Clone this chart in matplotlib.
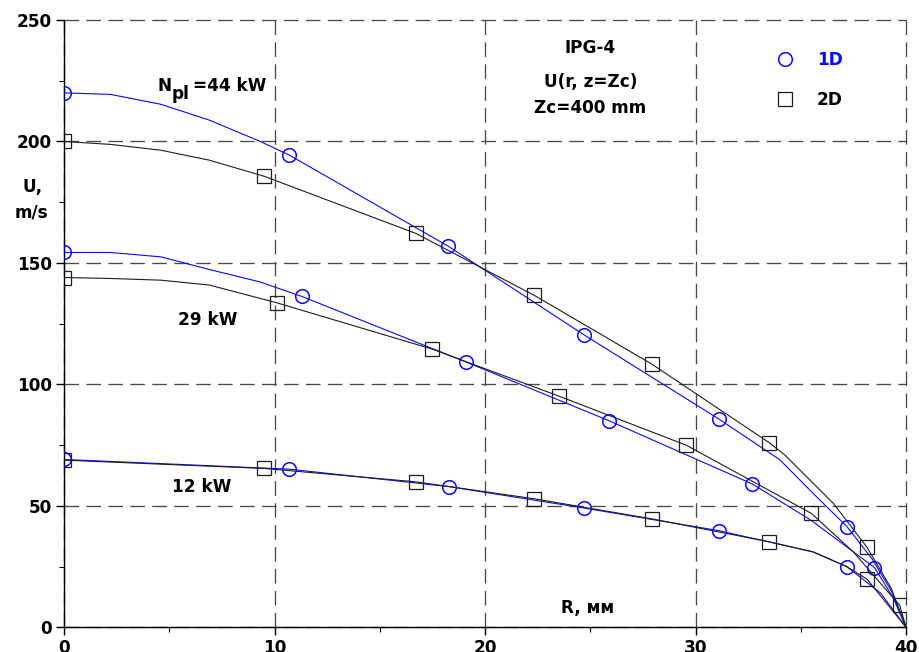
import matplotlib
matplotlib.use("Agg")
import matplotlib.pyplot as plt
from matplotlib.ticker import MultipleLocator

# Velocity profiles U(r) at z = Zc for three plasma powers
powers = ["44 kW", "29 kW", "12 kW"]

# 1D model points (circles)
r_1d_44 = [0, 10.7, 18.25, 24.7, 31.1, 37.2]
u_1d_44 = [220.0, 194.4, 156.9, 120.4, 85.8, 41.4]
r_1d_29 = [0, 11.3, 19.1, 25.9, 32.7, 38.5]
u_1d_29 = [154.3, 136.2, 109.2, 85.0, 59.0, 24.6]
r_1d_12 = [0, 10.7, 18.3, 24.7, 31.1, 37.2]
u_1d_12 = [69.1, 65.1, 57.9, 49.1, 39.8, 24.9]

# 2D model points (squares)
r_2d_44 = [0, 9.5, 16.7, 22.35, 27.95, 33.5, 38.15]
u_2d_44 = [200.0, 185.7, 162.2, 136.6, 108.2, 76.0, 32.9]
r_2d_29 = [0, 10.1, 17.5, 23.5, 29.55, 35.5, 39.7]
u_2d_29 = [144.0, 133.6, 114.5, 95.2, 75.0, 46.9, 9.1]
r_2d_12 = [0, 9.5, 16.7, 22.35, 27.95, 33.5, 38.15]
u_2d_12 = [68.8, 65.4, 59.9, 52.9, 44.6, 35.2, 19.8]

# profile curves
curve_r_1d_44 = [0, 2.2, 4.6, 6.9, 9.3, 10.7, 18.25, 24.7, 31.1, 34.0, 35.6, 37.2, 38.4, 39.3, 40]
curve_u_1d_44 = [220.0, 219.4, 215.3, 208.8, 200.1, 194.4, 156.9, 120.4, 85.8, 69.0, 55.0, 41.4, 28.0, 15.0, 0]
curve_r_2d_44 = [0, 2.2, 4.6, 6.9, 9.5, 16.7, 22.35, 27.95, 33.5, 34.25, 36.55, 38.15, 39.3, 40]
curve_u_2d_44 = [200.0, 198.8, 196.4, 192.3, 185.7, 162.2, 136.6, 108.2, 76.0, 70.9, 51.0, 32.9, 16.0, 0]
curve_r_1d_29 = [0, 2.2, 4.6, 6.9, 9.3, 11.3, 19.1, 25.9, 32.7, 35.5, 37.2, 38.5, 39.4, 40]
curve_u_1d_29 = [154.3, 154.3, 152.5, 147.3, 142.2, 136.2, 109.2, 85.0, 59.0, 44.0, 33.0, 24.6, 12.0, 0]
curve_r_2d_29 = [0, 2.2, 4.6, 6.9, 10.1, 17.5, 23.5, 29.55, 35.5, 37.5, 38.8, 39.7, 40]
curve_u_2d_29 = [144.0, 143.6, 142.9, 140.9, 133.6, 114.5, 95.2, 75.0, 46.9, 31.0, 18.0, 9.1, 0]
curve_r_1d_12 = [0, 10.7, 18.3, 24.7, 31.1, 35.6, 37.2, 38.8, 40]
curve_u_1d_12 = [69.1, 65.1, 57.9, 49.1, 39.8, 31.0, 24.9, 14.0, 0]
curve_r_2d_12 = [0, 9.5, 16.7, 22.35, 27.95, 33.5, 35.6, 37.2, 38.15, 40]
curve_u_2d_12 = [68.8, 65.4, 59.9, 52.9, 44.6, 35.2, 31.0, 24.9, 19.8, 0]

x_ticks = [0, 10, 20, 30, 40]
y_ticks = [0, 50, 100, 150, 200, 250]

BLUE = "#0a0aff"
DARK = "#1e1e1e"
FONT = "DejaVu Sans"

plt.rcParams["font.family"] = FONT
plt.rcParams["font.weight"] = "bold"
plt.rcParams["lines.scale_dashes"] = False

fig = plt.figure(figsize=(9.2, 6.52), dpi=100)
ax = fig.add_axes([0.0696, 0.0379, 0.9152, 0.9314])

# curves
for r, u in [(curve_r_1d_44, curve_u_1d_44), (curve_r_1d_29, curve_u_1d_29),
             (curve_r_1d_12, curve_u_1d_12)]:
    ax.plot(r, u, color=BLUE, lw=0.8, zorder=3)
for r, u in [(curve_r_2d_44, curve_u_2d_44), (curve_r_2d_29, curve_u_2d_29),
             (curve_r_2d_12, curve_u_2d_12)]:
    ax.plot(r, u, color=DARK, lw=0.8, zorder=3)

# markers
circ = dict(ls="none", marker="o", ms=9.8, mfc="none", mec=BLUE, mew=1.1, zorder=4)
sq = dict(ls="none", marker="s", ms=9.6, mfc="none", mec=DARK, mew=0.9, zorder=4)
ax.plot(r_1d_44, u_1d_44, label="1D", **circ)
ax.plot(r_1d_29, u_1d_29, **circ)
ax.plot(r_1d_12, u_1d_12, **circ)
ax.plot(r_2d_44, u_2d_44, label="2D", **sq)
ax.plot(r_2d_29, u_2d_29, **sq)
ax.plot(r_2d_12, u_2d_12, **sq)

ax.set_xlim(0, 40)
ax.set_ylim(0, 250)
ax.set_xticks(x_ticks)
ax.set_yticks(y_ticks)
ax.xaxis.set_minor_locator(MultipleLocator(5))
ax.yaxis.set_minor_locator(MultipleLocator(25))
ax.tick_params(which="major", length=6, width=1, pad=2.5, labelsize=12.2, colors="black")
ax.tick_params(which="minor", length=3.5, width=0.8)
for lab in ax.get_xticklabels() + ax.get_yticklabels():
    lab.set_fontweight("bold")

for s in ["top", "right"]:
    ax.spines[s].set_visible(False)
for s in ["left", "bottom"]:
    ax.spines[s].set_linewidth(1.0)
    ax.spines[s].set_color("black")

ax.grid(True, which="major", color="#4a4a4a", lw=0.95, ls=(0, (10.5, 5.3)))
ax.set_axisbelow(True)
for gl in ax.get_xgridlines() + ax.get_ygridlines():
    gl.set_clip_on(False)

txt = dict(fontsize=12.2, fontweight="bold", color="black")
ax.text(4.42, 223.0, "N", ha="left", va="center", **txt)
ax.text(5.13, 219.6, "pl", ha="left", va="center", **txt)
ax.text(6.13, 223.0, "=44 kW", ha="left", va="center", **txt)
ax.text(6.84, 126.7, "29 kW", ha="center", va="center", **txt)
ax.text(6.56, 57.7, "12 kW", ha="center", va="center", **txt)

ax.text(25.0, 238.6, "IPG-4", ha="center", va="center", **txt)
ax.text(25.0, 224.4, "U(r, z=Zc)", ha="center", va="center", **txt)
ax.text(25.0, 213.9, "Zc=400 mm", ha="center", va="center", **txt)
ax.text(24.87, 8.1, "R, мм", ha="center", va="center", **txt)

ax.text(-1.5, 181.2, "U,", ha="center", va="center", clip_on=False, **txt)
ax.text(-1.55, 170.8, "m/s", ha="center", va="center", clip_on=False, **txt)

leg = ax.legend(loc="upper left", bbox_to_anchor=(0.834, 0.963), frameon=False,
                numpoints=1, handlelength=1.2, handletextpad=1.3, labelspacing=1.32,
                borderpad=0, prop={"family": FONT, "weight": "bold", "size": 12.2})
leg.get_texts()[0].set_color(BLUE)

fig.savefig("out.png", dpi=100)
